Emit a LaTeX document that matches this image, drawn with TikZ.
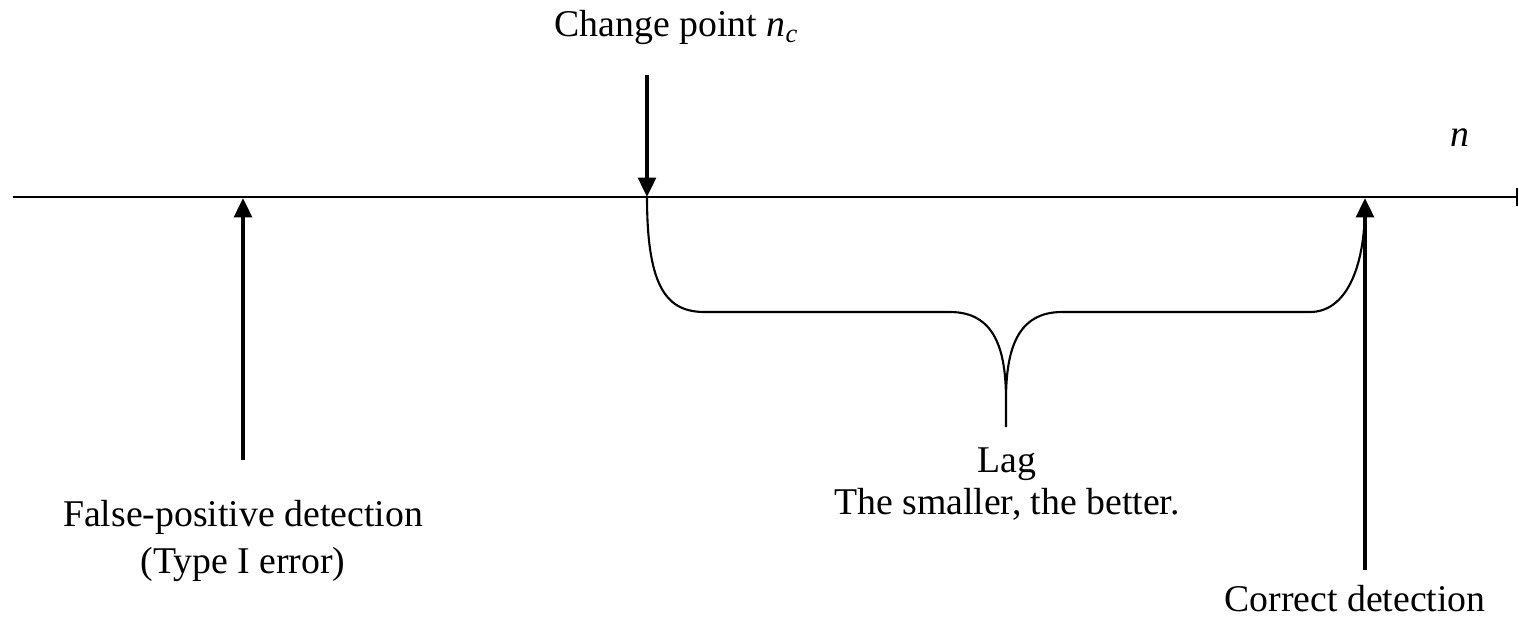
\documentclass[tikz,border=0pt]{standalone}
\usepackage{fontspec}
\setmainfont{Liberation Serif}
\usetikzlibrary{arrows.meta,positioning}

\begin{document}
\begin{tikzpicture}[
    x=0.02cm, y=-0.02cm,
    axis/.style={line width=1.6pt, -{Bar[width=10pt, line width=1.2pt]}},
    arrow/.style={line width=2.2pt, -{Triangle[length=11pt, width=10pt]}},
    brace/.style={line width=1.2pt},
    label/.style={align=center, inner sep=0pt, font=\fontsize{21.5}{26.5}\selectfont}
]
    \useasboundingbox (0,0) rectangle (1519,620);

    % time axis
    \coordinate (axL) at (13,197);
    \coordinate (axR) at (1518,197);
    \draw[axis] (axL) -- (axR);

    % points on the axis
    \coordinate (nc) at (647,197);
    \coordinate (fp) at (243,198);
    \coordinate (cd) at (1365,198);
    \coordinate (lag) at (1006,427);
    \coordinate (ncTop) at (647,75);
    \coordinate (fpFoot) at (243,460);
    \coordinate (cdFoot) at (1365,570);

    % labels
    \node[label] (change) at (676,27) {Change point \textit{n}\raisebox{-0.35ex}{\fontsize{15}{15}\selectfont\textit{c}}};
    \node[label] (nlab) at (1460,138) {\textit{n}};
    \node[label] (falsepos) at (243,541) {False-positive detection\\(Type I error)};
    \node[label, font=\fontsize{21.5}{24}\selectfont] (laglab) at (1007,484) {Lag\\The smaller, the better.};
    \node[label] (correct) at (1355,599) {Correct detection};

    % arrows
    \draw[arrow] (ncTop) -- (nc);
    \draw[arrow] (fpFoot) -- (fp);
    \draw[arrow] (cdFoot) -- (cd);

    % lag brace
    \draw[brace] (nc) .. controls (647,290) and (668,312) .. (705,312) -- (950,312)
        .. controls (995,312) and (1006,350) .. (1006,400) -- (lag) -- (1006,400)
        .. controls (1006,350) and (1017,312) .. (1062,312) -- (1310,312)
        .. controls (1345,312) and (1365,270) .. (1365,205);
\end{tikzpicture}
\end{document}
